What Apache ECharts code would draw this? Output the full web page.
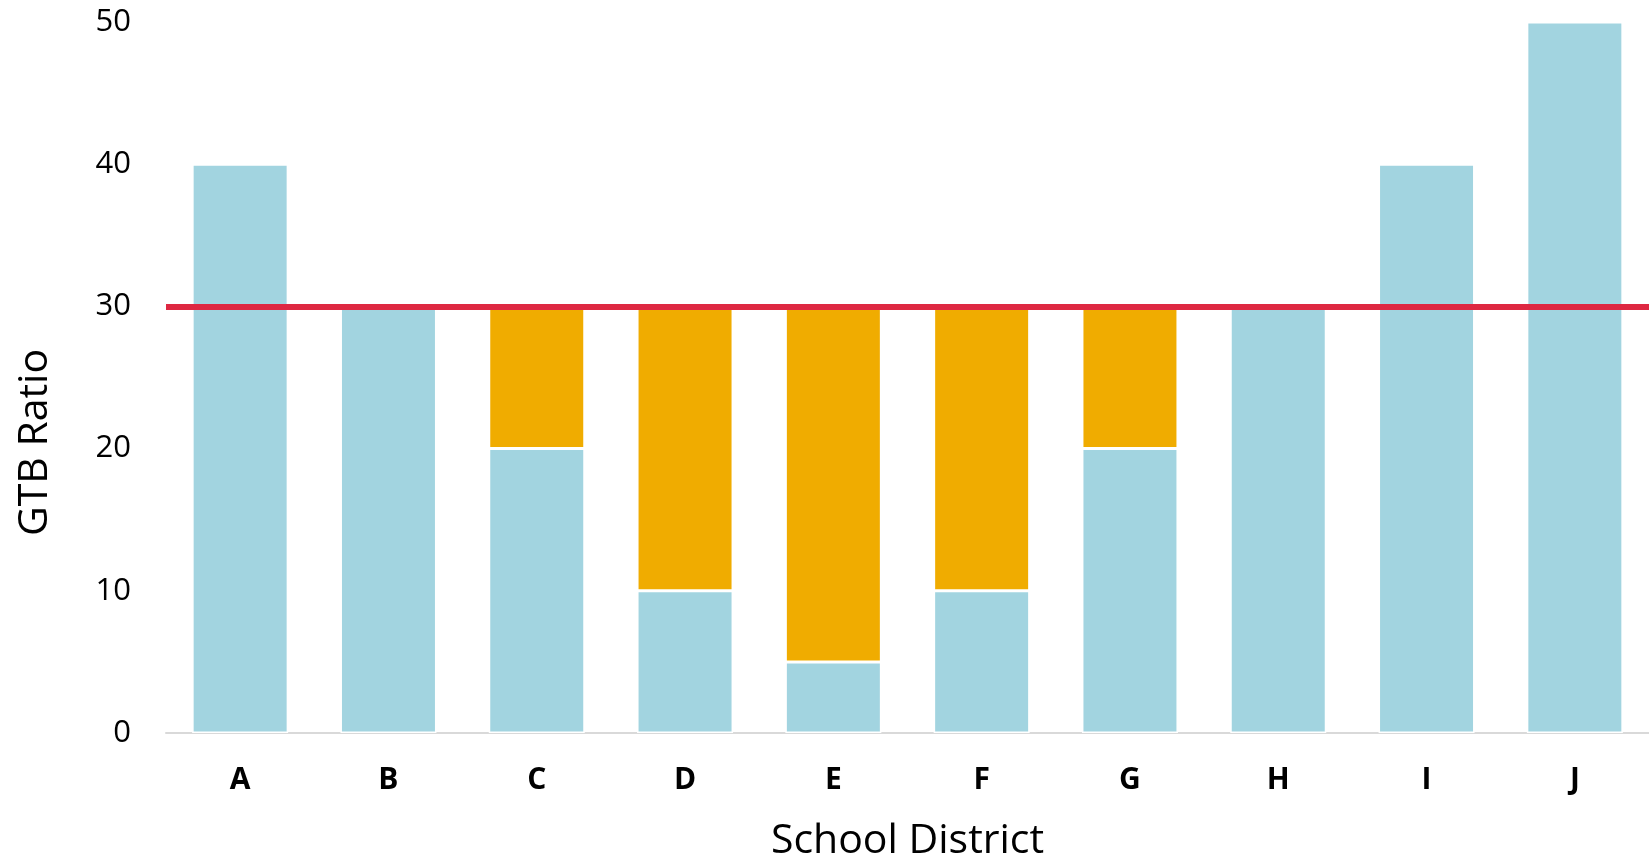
<!DOCTYPE html>
<html>
<head>
<meta charset="utf-8">
<style>
html,body{margin:0;padding:0;background:#fff;}
#chart{width:1649px;height:862px;}
</style>
<script src="https://cdn.jsdelivr.net/npm/echarts@6/dist/echarts.min.js"></script>
</head>
<body>
<div id="chart"></div>
<script>
const categories = ['A','B','C','D','E','F','G','H','I','J'];
const baseValues = [40, 30, 20, 10, 5, 10, 20, 30, 40, 50];
const gapValues  = [0, 0, 10, 20, 25, 20, 10, 0, 0, 0];
const yTicks = [0, 10, 20, 30, 40, 50];
const targetLine = 30;

const FONT = '"Open Sans", "Noto Sans", sans-serif';
const chart = echarts.init(document.getElementById('chart'), null, {renderer: 'canvas'});
chart.setOption({
  animation: false,
  backgroundColor: '#ffffff',
  grid: {left: 166, right: 0, top: 22, bottom: 129, containLabel: false, outerBoundsMode: 'none'},
  xAxis: {
    type: 'category',
    data: categories,
    boundaryGap: true,
    axisLine: {show: true, lineStyle: {color: '#d9d9d9', width: 2}},
    axisTick: {show: false},
    axisLabel: {
      color: '#000', fontFamily: FONT, fontSize: 30, fontWeight: 'bold',
      margin: 47, verticalAlign: 'middle'
    },
    name: 'School District',
    nameLocation: 'middle',
    nameGap: 108,
    nameTextStyle: {color: '#000', fontFamily: FONT, fontSize: 41, verticalAlign: 'middle'}
  },
  yAxis: {
    type: 'value',
    min: yTicks[0],
    max: yTicks[yTicks.length - 1],
    interval: yTicks[1] - yTicks[0],
    splitLine: {show: false},
    axisLine: {show: false},
    axisTick: {show: false},
    axisLabel: {color: '#000', fontFamily: FONT, fontSize: 31, margin: 35},
    name: 'GTB Ratio',
    nameLocation: 'middle',
    nameRotate: 90,
    nameGap: 131,
    nameTextStyle: {
      color: '#000', fontFamily: FONT, fontSize: 41, verticalAlign: 'middle',
      padding: [0, 130, 0, 0]
    }
  },
  series: [
    {
      type: 'bar',
      stack: 'total',
      data: baseValues,
      barWidth: 96,
      itemStyle: {color: '#a2d4e0', borderColor: '#ffffff', borderWidth: 1.5},
      z: 2,
      markLine: {
        silent: true,
        symbol: ['none', 'none'],
        label: {show: false},
        lineStyle: {color: '#de2842', width: 6, type: 'solid'},
        data: [{yAxis: targetLine}],
        z: 10
      }
    },
    {
      type: 'bar',
      stack: 'total',
      data: gapValues.map(v => v === 0 ? null : v),
      barWidth: 96,
      itemStyle: {color: '#f0ac00', borderColor: '#ffffff', borderWidth: 1.5},
      z: 2
    }
  ]
});
</script>
</body>
</html>
